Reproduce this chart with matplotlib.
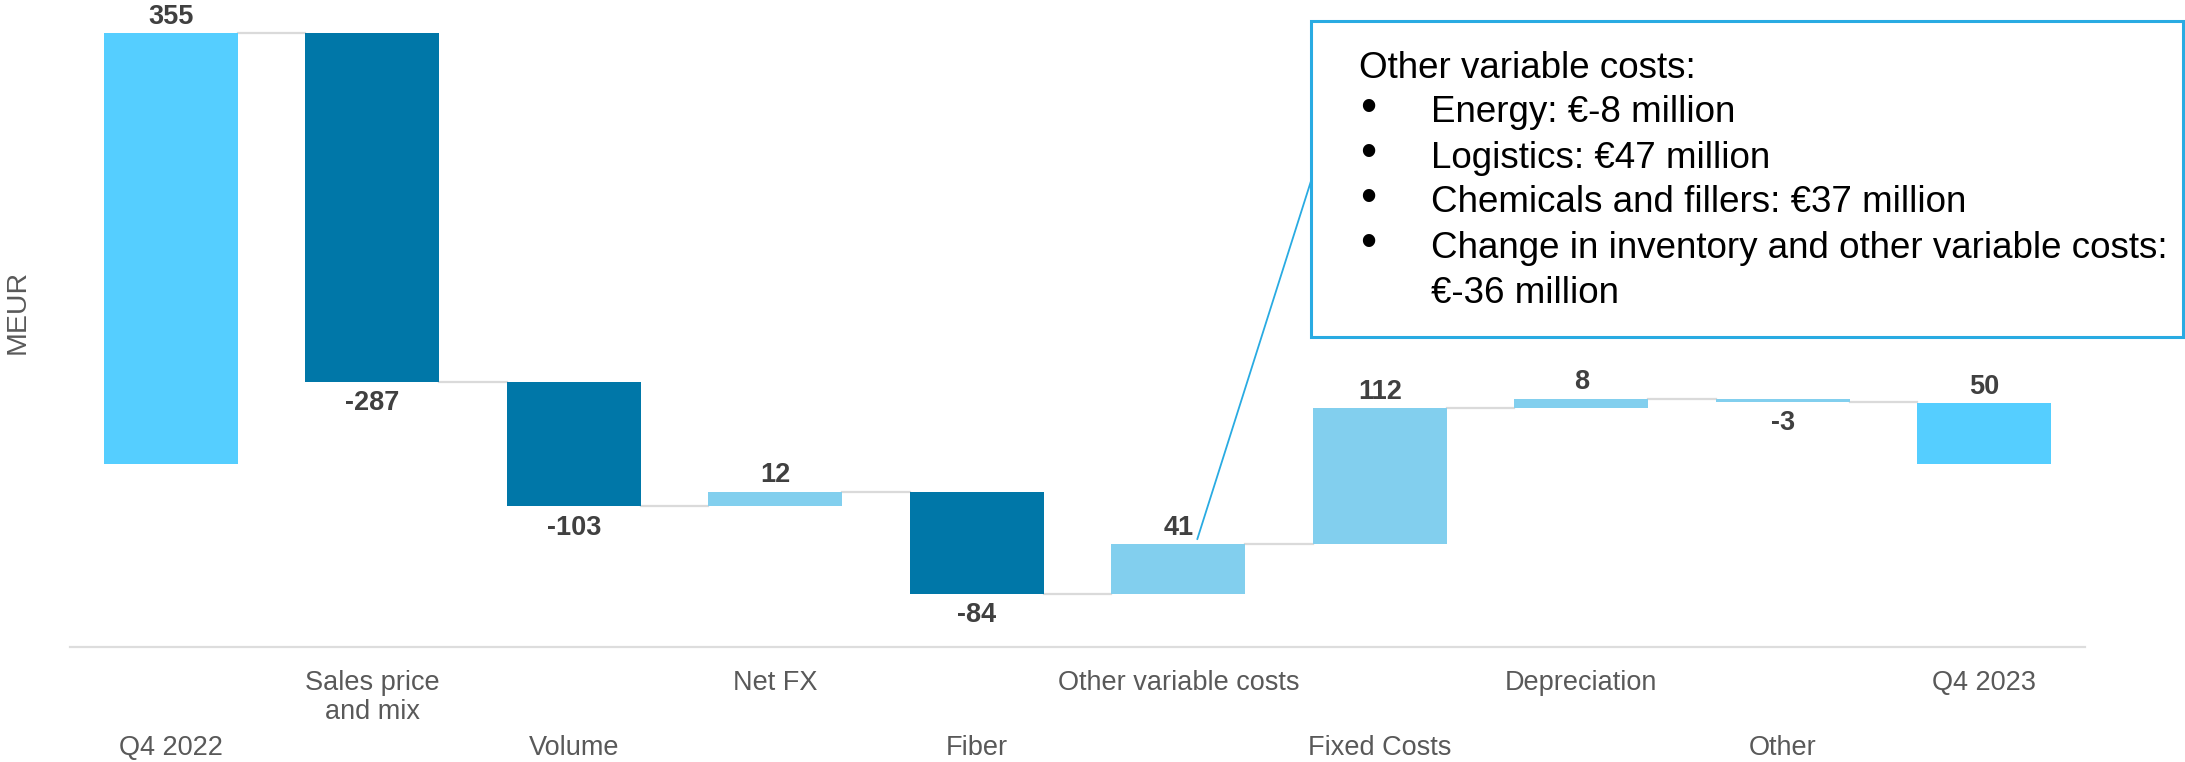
import matplotlib.pyplot as plt
from matplotlib.patches import Rectangle
import numpy as np

plt.rcParams['font.family'] = ['Liberation Sans', 'DejaVu Sans']

# bridge from Q4 2022 to Q4 2023, MEUR
categories = ["Q4 2022", "Sales price\nand mix", "Volume", "Net FX", "Fiber",
              "Other variable costs", "Fixed Costs", "Depreciation", "Other", "Q4 2023"]
values = [355, -287, -103, 12, -84, 41, 112, 8, -3, 50]
is_total = [True, False, False, False, False, False, False, False, False, True]

note_title = "Other variable costs:"
note_items = ["Energy: €-8 million",
              "Logistics: €47 million",
              "Chemicals and fillers: €37 million",
              "Change in inventory and other variable costs:\n€-36 million"]

c_total = '#55CEFF'
c_down = '#0077A8'
c_up = '#82CFEE'
c_line = '#DADADA'
c_text = '#404040'
c_axis = '#595959'
c_note = '#29ABE2'

W, H = 2185, 762
fig = plt.figure(figsize=(W / 100, H / 100), dpi=100)
ax = fig.add_axes([70 / W, 1 - 646.7 / H, (2085 - 70) / W, 646.7 / H])

# bar bottoms/tops
bottoms, tops = [], []
running = 0
for v, tot in zip(values, is_total):
    if tot:
        b, t = 0, v
        running = v
    else:
        b, t = running, running + v
        running = running + v
    bottoms.append(min(b, t))
    tops.append(max(b, t))

x = np.arange(len(values))
colors = []
for i, (v, tot) in enumerate(zip(values, is_total)):
    if tot:
        colors.append(c_total)
    elif v < 0 and abs(v) > 10:
        colors.append(c_down)
    else:
        colors.append(c_up)

bw = 0.663
ax.bar(x, np.array(tops) - np.array(bottoms), bottom=bottoms, width=bw,
       color=colors, edgecolor='none', zorder=3)

# connectors between consecutive bars
level = 0
for i, (v, tot) in enumerate(zip(values, is_total)):
    level = v if tot else level + v
    if i < len(values) - 1:
        ax.plot([i + bw / 2, i + 1 - bw / 2], [level, level], color=c_line, lw=1.6, zorder=2)

# value labels
for i, v in enumerate(values):
    if v >= 0:
        ax.annotate(f"{v}", (i, tops[i]), xytext=(0, 2.5), textcoords='offset points',
                    ha='center', va='bottom', fontsize=19.5, fontweight='bold', color=c_text)
    else:
        ax.annotate(f"{v}", (i, bottoms[i]), xytext=(0, -6), textcoords='offset points',
                    ha='center', va='top', fontsize=19.5, fontweight='bold', color=c_text)

ax.set_xlim(-0.5, 9.5)
ax.set_ylim(-150.6, 382.5)
ax.set_yticks([])
for s in ['top', 'right', 'left']:
    ax.spines[s].set_visible(False)
ax.spines['bottom'].set_color('#DDDDDD')
ax.spines['bottom'].set_linewidth(1.6)

# staggered category labels
labels = [c if i % 2 == 1 else "\n\n" + c for i, c in enumerate(categories)]
ax.set_xticks(x, labels)
ax.tick_params(axis='x', length=0, pad=17, labelsize=19.5, labelcolor=c_axis)
for i, t in enumerate(ax.get_xticklabels()):
    t.set_linespacing(1.15 if i % 2 == 1 else 1.32)

fig.text(18 / W, 1 - 312 / H, "MEUR", rotation=90, ha='center', va='center',
         fontsize=20.5, color=c_axis)

# callout box for other variable costs
bx0, by0, bx1, by1 = 1311, 20.7, 2183, 336.7
fig.add_artist(Rectangle((bx0 / W, 1 - by1 / H), (bx1 - bx0) / W, (by1 - by0) / H,
                         transform=fig.transFigure, facecolor='white',
                         edgecolor=c_note, lw=2.2, zorder=5))
fs_note = 26.5
fig.text(1359 / W, 1 - 68 / H, note_title, ha='left', va='center', fontsize=fs_note,
         color='black', zorder=6)
yy = 113
for item in note_items:
    fig.text(1368 / W, 1 - (yy - 4) / H, "•", ha='center', va='center', fontsize=33,
             zorder=6)
    for ln in item.split("\n"):
        fig.text(1431 / W, 1 - yy / H, ln, ha='left', va='center', fontsize=fs_note,
                 color='black', zorder=6)
        yy += 45

ax.annotate('', xy=(5 + 19 / 201.3, -62), xycoords='data',
            xytext=(bx0, H - 181), textcoords='figure pixels',
            arrowprops=dict(arrowstyle='-', color=c_note, lw=1.3, shrinkA=0, shrinkB=0),
            zorder=4)

fig.savefig('out.png', dpi=100)
